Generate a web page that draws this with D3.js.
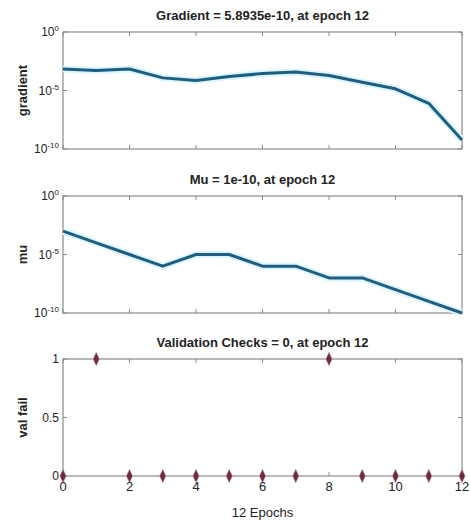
<!DOCTYPE html>
<html>
<head>
<meta charset="utf-8">
<script src="https://cdn.jsdelivr.net/npm/d3@7"></script>
<style>
  body { margin: 0; background: #fff; }
  text { font-family: "Liberation Sans", Arial, sans-serif; fill: #222; }
  .title { font-size: 13px; font-weight: bold; }
  .ylab { font-size: 13px; font-weight: bold; }
</style>
</head>
<body>
<div id="chart"></div>
<script>
// data
var epochs = [0,1,2,3,4,5,6,7,8,9,10,11,12];
var gradient = [7e-4, 5.2e-4, 6.9e-4, 1.2e-4, 7e-5, 1.6e-4, 2.8e-4, 3.8e-4, 1.9e-4, 5.1e-5, 1.4e-5, 8e-7, 5.8935e-10];
var mu = [1e-3, 1e-4, 1e-5, 1e-6, 1e-5, 1e-5, 1e-6, 1e-6, 1e-7, 1e-7, 1e-8, 1e-9, 1e-10];
var valFail = [0,1,0,0,0,0,0,0,1,0,0,0,0];
var xTicks = [0,2,4,6,8,10,12];
var titles = ["Gradient = 5.8935e-10, at epoch 12", "Mu = 1e-10, at epoch 12", "Validation Checks = 0, at epoch 12"];
var yLabels = ["gradient", "mu", "val fail"];

function makeChart(){
  var W = 470, H = 524;
  var left = 63, right = 462;
  var tops = [32, 196, 359], ph = 117;

  var svg = d3.select("#chart").append("svg")
      .attr("width", W).attr("height", H);

  var x = d3.scaleLinear().domain([0,12]).range([left, right]);

  function frame(i, y, yTicks, fmt, log){
    var g = svg.append("g");
    var t = tops[i];
    g.append("rect").attr("x", left).attr("y", t)
      .attr("width", right-left).attr("height", ph)
      .attr("fill", "none").attr("stroke", "#8a8a8a").attr("stroke-width", 1.2);
    // inward ticks
    xTicks.forEach(function(v){
      g.append("line").attr("x1", x(v)).attr("x2", x(v)).attr("y1", t+ph).attr("y2", t+ph-4).attr("stroke", "#8a8a8a");
      g.append("line").attr("x1", x(v)).attr("x2", x(v)).attr("y1", t).attr("y2", t+4).attr("stroke", "#8a8a8a");
    });
    yTicks.forEach(function(v){
      g.append("line").attr("x1", left).attr("x2", left+4).attr("y1", y(v)).attr("y2", y(v)).attr("stroke", "#8a8a8a");
      g.append("line").attr("x1", right).attr("x2", right-4).attr("y1", y(v)).attr("y2", y(v)).attr("stroke", "#8a8a8a");
      var tx = g.append("text").attr("x", left-4).attr("y", y(v)+4)
        .attr("text-anchor", "end").style("font-size", "12px");
      if (log){
        tx.append("tspan").text("10");
        tx.append("tspan").attr("dy", -5).style("font-size", "8px").text(Math.round(Math.log10(v)));
      } else {
        tx.text(fmt(v));
      }
    });
    g.append("text").attr("class", "title").attr("x", (left+right)/2).attr("y", t-12)
      .attr("text-anchor", "middle").text(titles[i]);
    g.append("text").attr("class", "ylab")
      .attr("transform", "translate(27," + (t+ph/2) + ") rotate(-90)")
      .attr("text-anchor", "middle").text(yLabels[i]);
    return g;
  }

  function logPanel(i, values){
    var y = d3.scaleLog().domain([1e-10, 1]).range([tops[i]+ph, tops[i]]);
    var g = frame(i, y, [1e-10, 1e-5, 1], null, true);
    var line = d3.line().x(function(d,j){return x(epochs[j])}).y(function(d){return y(d)});
    g.append("path").datum(values).attr("d", line)
      .attr("fill", "none").attr("stroke", "#dcf5fb").attr("stroke-width", 7).attr("stroke-linejoin", "round");
    g.append("path").datum(values).attr("d", line)
      .attr("fill", "none").attr("stroke", "#1d5e82").attr("stroke-width", 3).attr("stroke-linejoin", "round");
  }

  logPanel(0, gradient);
  logPanel(1, mu);

  // validation checks
  var yv = d3.scaleLinear().domain([0,1]).range([tops[2]+ph, tops[2]]);
  var g3 = frame(2, yv, [0, 0.5, 1], d3.format("~g"), false);
  var diamond = d3.symbol().type(d3.symbolDiamond).size(50);
  g3.selectAll(".dot").data(valFail).enter().append("path")
    .attr("class", "dot")
    .attr("d", diamond)
    .attr("transform", function(d,j){return "translate(" + x(epochs[j]) + "," + yv(d) + ") scale(0.85,1.05)"})
    .attr("fill", "#6e2a47").attr("stroke", "#d9b8c6").attr("stroke-width", 0.6);

  // x tick labels + label
  xTicks.forEach(function(v){
    svg.append("text").attr("x", x(v)).attr("y", tops[2]+ph+15)
      .attr("text-anchor", "middle").style("font-size", "13px").text(v);
  });
  svg.append("text").attr("x", (left+right)/2).attr("y", 517)
    .attr("text-anchor", "middle").style("font-size", "13px").text("12 Epochs");
}

document.addEventListener('DOMContentLoaded', function(){ makeChart(); }, false);
</script>
</body>
</html>
